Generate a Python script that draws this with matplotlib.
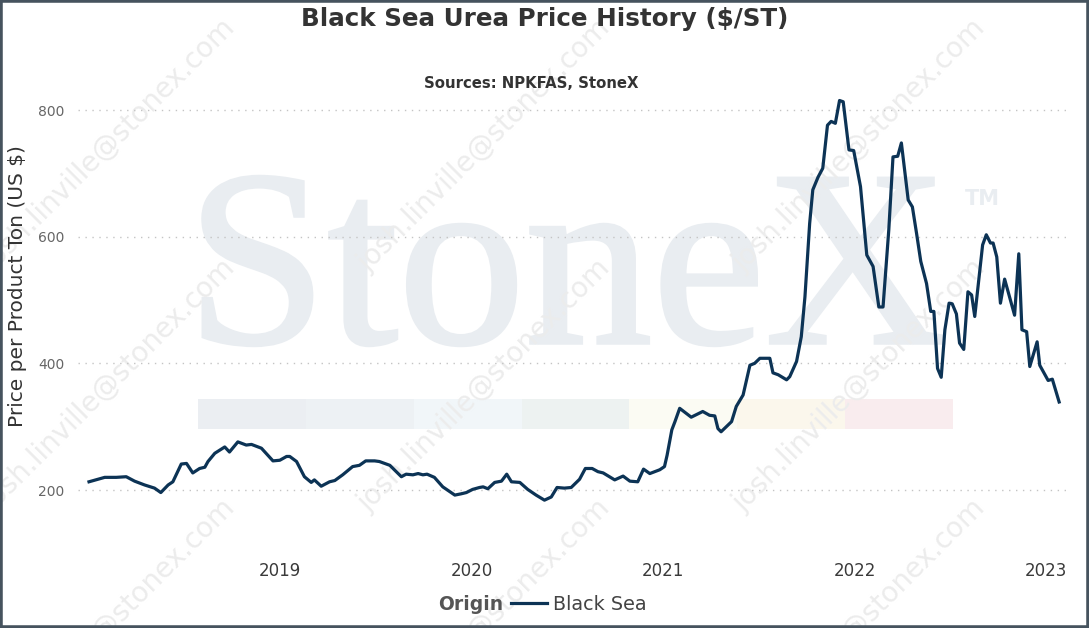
import numpy as np
import pandas as pd
import matplotlib
matplotlib.use("Agg")
import matplotlib.pyplot as plt
import matplotlib.dates as mdates
from matplotlib.patches import Rectangle, PathPatch
from matplotlib.textpath import TextPath
from matplotlib.font_manager import FontProperties
from matplotlib.transforms import Affine2D, IdentityTransform
from matplotlib.lines import Line2D

# ---- data ----
dates = ["2018-01-01", "2018-01-18", "2018-01-31", "2018-02-22", "2018-03-13", "2018-03-29",
         "2018-04-17", "2018-05-06", "2018-05-18", "2018-06-01", "2018-06-10", "2018-06-26",
         "2018-07-06", "2018-07-18", "2018-07-31", "2018-08-10", "2018-08-16", "2018-08-29",
         "2018-09-17", "2018-09-26", "2018-10-12", "2018-10-28", "2018-11-07", "2018-11-26",
         "2018-12-18", "2018-12-31", "2019-01-13", "2019-01-19", "2019-02-01", "2019-02-16",
         "2019-03-01", "2019-03-07", "2019-03-20", "2019-04-05", "2019-04-15", "2019-04-30",
         "2019-05-19", "2019-06-01", "2019-06-13", "2019-06-30", "2019-07-09", "2019-07-29",
         "2019-08-20", "2019-08-29", "2019-09-11", "2019-09-21", "2019-09-30", "2019-10-08",
         "2019-10-22", "2019-11-07", "2019-11-30", "2019-12-12", "2019-12-22", "2020-01-03",
         "2020-01-16", "2020-01-23", "2020-02-01", "2020-02-14", "2020-02-27", "2020-03-08",
         "2020-03-17", "2020-04-02", "2020-04-17", "2020-05-03", "2020-05-19", "2020-06-01",
         "2020-06-12", "2020-06-26", "2020-07-09", "2020-07-25", "2020-08-05", "2020-08-18",
         "2020-08-29", "2020-09-08", "2020-09-30", "2020-10-16", "2020-10-29", "2020-11-13",
         "2020-11-24", "2020-12-06", "2020-12-25", "2021-01-03", "2021-01-08", "2021-01-17",
         "2021-01-23", "2021-02-01", "2021-02-23", "2021-03-17", "2021-03-30", "2021-04-09",
         "2021-04-15", "2021-04-21", "2021-05-11", "2021-05-20", "2021-06-02", "2021-06-15",
         "2021-06-24", "2021-07-04", "2021-07-23", "2021-07-29", "2021-08-08", "2021-08-24",
         "2021-08-30", "2021-09-12", "2021-09-21", "2021-09-28", "2021-10-07", "2021-10-13",
         "2021-10-23", "2021-11-01", "2021-11-10", "2021-11-17", "2021-11-25", "2021-12-03",
         "2021-12-10", "2021-12-21", "2021-12-30", "2022-01-12", "2022-01-24", "2022-02-05",
         "2022-02-16", "2022-02-24", "2022-03-07", "2022-03-15", "2022-03-24", "2022-03-31",
         "2022-04-13", "2022-04-21", "2022-04-29", "2022-05-07", "2022-05-18", "2022-05-26",
         "2022-06-01", "2022-06-08", "2022-06-15", "2022-06-22", "2022-06-30", "2022-07-06",
         "2022-07-14", "2022-07-20", "2022-07-28", "2022-08-05", "2022-08-12", "2022-08-18",
         "2022-09-02", "2022-09-09", "2022-09-17", "2022-09-22", "2022-09-29", "2022-10-06",
         "2022-10-14", "2022-11-02", "2022-11-10", "2022-11-16", "2022-11-25", "2022-12-01",
         "2022-12-15", "2022-12-20", "2023-01-05", "2023-01-13", "2023-01-26"]

black_sea = [213, 217, 220, 220, 221, 214,
             208, 203, 196, 208, 213, 241,
             242, 227, 234, 236, 245, 258,
             268, 260, 276, 271, 272, 266,
             246, 247, 253, 253, 245, 221,
             212, 216, 206, 213, 215, 224,
             237, 239, 246, 246, 245, 239,
             221, 225, 224, 226, 224, 225,
             220, 205, 192, 194, 196, 201,
             204, 205, 202, 212, 214, 225,
             213, 212, 201, 192, 184, 189,
             204, 203, 204, 217, 234, 234,
             229, 227, 216, 222, 214, 213,
             233, 226, 232, 237, 255, 295,
             308, 329, 315, 324, 318, 317,
             297, 292, 308, 332, 350, 397,
             400, 408, 408, 385, 382, 374,
             379, 403, 442, 505, 621, 674,
             694, 708, 776, 782, 779, 815,
             813, 737, 736, 679, 571, 553,
             489, 489, 611, 726, 727, 748,
             658, 647, 605, 561, 526, 482,
             482, 392, 378, 453, 495, 494,
             478, 432, 422, 513, 508, 474,
             587, 603, 590, 590, 568, 495,
             533, 476, 573, 453, 450, 395,
             434, 397, 373, 375, 339]

year_ticks = ["2019-01-01", "2020-01-01", "2021-01-01", "2022-01-01", "2023-01-01"]
year_labels = ["2019", "2020", "2021", "2022", "2023"]
y_ticks = [200, 400, 600, 800]

W, H = 1089, 628
LINE_COLOR = "#0c3355"

fig = plt.figure(figsize=(W / 100, H / 100), dpi=100)
fig.patch.set_facecolor("white")

# ---- background watermark decorations (figure pixel coords) ----
band_edges = [198, 306, 414, 522, 629, 737, 845, 953]
band_colors = ["#ebeef2", "#edf1f4", "#f1f6f9", "#edf2f1", "#fbfbf3", "#fbf7ec", "#f9ecee"]
for i in range(len(band_colors)):
    x0 = band_edges[i]
    x1 = band_edges[i + 1]
    fig.add_artist(Rectangle((x0 / W, 1 - 429 / H), (x1 - x0) / W, 30 / H,
                             transform=fig.transFigure, facecolor=band_colors[i],
                             edgecolor="none", zorder=-3))

# big "StoneX" logo watermark, scaled to fit its box
tp = TextPath((0, 0), "StoneX", size=1, prop=FontProperties(family="Liberation Serif"))
ext = tp.get_extents()
cap = TextPath((0, 0), "S", size=1, prop=FontProperties(family="Liberation Serif")).get_extents()
sx = (944 - 203) / ext.width
sy = (343 - 174) / cap.height
tr = Affine2D().translate(-ext.x0, 0).scale(sx, sy).translate(203, H - 343)
fig.add_artist(PathPatch(tp, transform=tr + IdentityTransform(), facecolor="#e9edf1",
                         edgecolor="#e9edf1", lw=2.5, zorder=-3))
fig.text(965 / W, 1 - 205 / H, "TM", fontsize=15, fontweight="bold", color="#e9edf1",
         ha="left", va="baseline", zorder=-3)

# diagonal email watermark
for cx in [109, 484, 859]:
    for cy in [145, 385, 625]:
        fig.text(cx / W, 1 - cy / H, "josh.linville@stonex.com", fontsize=20,
                 color="#ececec", rotation=45, rotation_mode="anchor",
                 ha="center", va="center", zorder=-2)

# ---- main axes ----
ax = fig.add_axes([78 / W, 1 - 550 / H, (1067 - 78) / W, (550 - 95) / H])
ax.set_facecolor("none")

x = pd.to_datetime(dates)
ax.plot(x, black_sea, color=LINE_COLOR, lw=2.3, solid_joinstyle="round", label="Black Sea", zorder=3)

ax.set_xlim(pd.Timestamp("2017-12-11"), pd.Timestamp("2023-02-10"))
ax.set_ylim(105.3, 823.7)

ax.set_xticks(pd.to_datetime(year_ticks))
ax.set_xticklabels(year_labels)
ax.set_yticks(y_ticks)
ax.tick_params(axis="x", length=0, pad=9, labelsize=12, labelcolor="#3a3a3a")
ax.tick_params(axis="y", length=0, pad=10, labelsize=10, labelcolor="#666666")
for s in ax.spines.values():
    s.set_visible(False)
ax.yaxis.grid(True, color="#c4c4c4", lw=1, linestyle=(0, (1, 4)))
ax.xaxis.grid(False)

fig.text(18 / W, 1 - 286 / H, "Price per Product Ton (US $)", rotation=90,
         fontsize=14.5, color="#333333", ha="center", va="center")

# titles
fig.text(545 / W, 1 - 19 / H, "Black Sea Urea Price History ($/ST)", fontsize=17.7,
         fontweight="bold", color="#333333", ha="center", va="center")
fig.text(531 / W, 1 - 83 / H, "Sources: NPKFAS, StoneX", fontsize=10.7,
         fontweight="bold", color="#333333", ha="center", va="center")

# legend
fig.text(503 / W, 1 - 604 / H, "Origin", fontsize=13.5, fontweight="bold",
         color="#555555", ha="right", va="center")
ax.legend(handles=[Line2D([], [], color=LINE_COLOR, lw=2.3)], labels=["Black Sea"],
          loc="center left", bbox_to_anchor=(511 / W, 1 - 604 / H),
          bbox_transform=fig.transFigure, frameon=False, fontsize=13.8,
          handlelength=1.9, handletextpad=0.3, borderpad=0, borderaxespad=0,
          labelcolor="#444444")

# outer frame
fig.add_artist(Rectangle((0, 0), 1, 1, transform=fig.transFigure, fill=False,
                         edgecolor="#46535e", lw=4, zorder=10))

fig.savefig("out.png", dpi=100)
